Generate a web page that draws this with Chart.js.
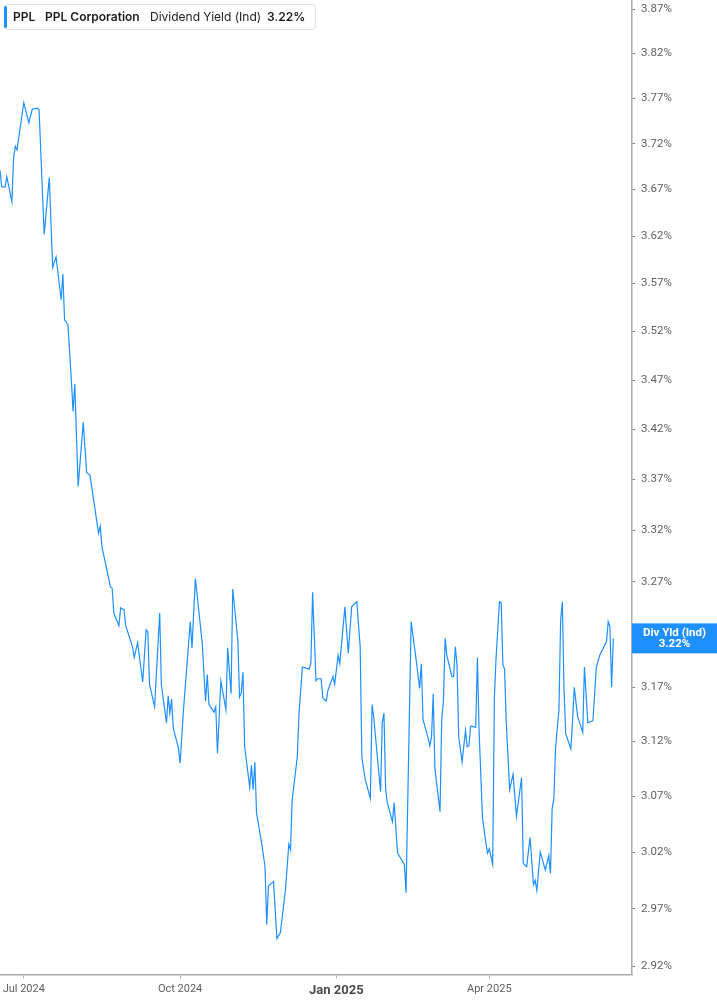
<!DOCTYPE html>
<html>
<head>
<meta charset="utf-8">
<script src="https://cdn.jsdelivr.net/npm/chart.js@4.4.1/dist/chart.umd.min.js"></script>
<style>
html,body{margin:0;padding:0;background:#fff;}
#wrap{position:relative;width:717px;height:1005px;overflow:hidden;}
#chart{position:absolute;left:0;top:0;}
#legend{position:absolute;left:4px;top:4px;width:312px;height:26px;box-sizing:border-box;border:1px solid #e4e4e4;border-radius:3px;background:#fff;font-family:Inter,"Noto Sans",sans-serif;font-size:12px;color:#1b1b1b;}
#legend .bar{position:absolute;left:-1px;top:1px;width:3px;height:22px;border-radius:2px;background:#1e8fff;}
#legend span{position:absolute;top:5px;line-height:14px;white-space:nowrap;}
#legend .b{font-weight:600;}
</style>
</head>
<body>
<div id="wrap">
  <canvas id="chart" width="717" height="1005"></canvas>
  <div id="legend">
    <div class="bar"></div>
    <span class="b" id="lgTicker" style="left:8px"></span>
    <span class="b" id="lgName" style="left:40px"></span>
    <span id="lgMetric" style="left:145px"></span>
    <span class="b" id="lgValue" style="left:262px"></span>
  </div>
</div>
<script>
const ticker = 'PPL';
const companyName = 'PPL Corporation';
const metricName = 'Dividend Yield (Ind)';
const seriesLabel = 'Div Yld (Ind)';

const dates = [
'2024-06-17','2024-06-18','2024-06-20','2024-06-21','2024-06-24','2024-06-25','2024-06-26','2024-06-27',
'2024-07-01','2024-07-04','2024-07-06','2024-07-09','2024-07-10','2024-07-13','2024-07-16','2024-07-18',
'2024-07-20','2024-07-23','2024-07-24','2024-07-25','2024-07-27','2024-07-28','2024-07-29','2024-07-30',
'2024-07-31','2024-08-02','2024-08-05','2024-08-07','2024-08-09','2024-08-14','2024-08-15','2024-08-16',
'2024-08-21','2024-08-22','2024-08-23','2024-08-26','2024-08-27','2024-08-29','2024-08-30','2024-09-03',
'2024-09-04','2024-09-06','2024-09-09','2024-09-11','2024-09-12','2024-09-13','2024-09-16','2024-09-19',
'2024-09-20','2024-09-23','2024-09-24','2024-09-25','2024-09-26','2024-09-27','2024-09-30','2024-10-01',
'2024-10-03','2024-10-07','2024-10-08','2024-10-10','2024-10-14','2024-10-16','2024-10-17','2024-10-18',
'2024-10-21','2024-10-22','2024-10-23','2024-10-25','2024-10-28','2024-10-29','2024-10-31','2024-11-01',
'2024-11-04','2024-11-05','2024-11-06','2024-11-07','2024-11-08','2024-11-11','2024-11-12','2024-11-13',
'2024-11-14','2024-11-15','2024-11-18','2024-11-20','2024-11-21','2024-11-22','2024-11-25','2024-11-27',
'2024-11-29','2024-12-02','2024-12-04','2024-12-05','2024-12-06','2024-12-09','2024-12-10','2024-12-12',
'2024-12-14','2024-12-16','2024-12-17','2024-12-18','2024-12-20','2024-12-21','2024-12-23','2024-12-24',
'2024-12-26','2024-12-27','2024-12-30','2024-12-31','2025-01-02','2025-01-03','2025-01-06','2025-01-08',
'2025-01-10','2025-01-13','2025-01-15','2025-01-16','2025-01-18','2025-01-21','2025-01-22','2025-01-23',
'2025-01-27','2025-01-28','2025-01-29','2025-01-30','2025-01-31','2025-02-03','2025-02-04','2025-02-06',
'2025-02-10','2025-02-11','2025-02-14','2025-02-17','2025-02-19','2025-02-20','2025-02-21','2025-02-24',
'2025-02-25','2025-02-26','2025-02-27','2025-02-28','2025-03-03','2025-03-04','2025-03-05','2025-03-06',
'2025-03-07','2025-03-10','2025-03-11','2025-03-12','2025-03-13','2025-03-14','2025-03-16','2025-03-18',
'2025-03-19','2025-03-20','2025-03-21','2025-03-24','2025-03-25','2025-03-26','2025-03-28','2025-03-30',
'2025-03-31','2025-04-01','2025-04-03','2025-04-04','2025-04-05','2025-04-07','2025-04-08','2025-04-09',
'2025-04-10','2025-04-11','2025-04-13','2025-04-15','2025-04-17','2025-04-20','2025-04-21','2025-04-23',
'2025-04-25','2025-04-27','2025-04-28','2025-04-29','2025-05-01','2025-05-04','2025-05-06','2025-05-07',
'2025-05-08','2025-05-09','2025-05-10','2025-05-12','2025-05-13','2025-05-14','2025-05-15','2025-05-16',
'2025-05-19','2025-05-20','2025-05-21','2025-05-23','2025-05-26','2025-05-27','2025-05-29','2025-06-01',
'2025-06-03','2025-06-05','2025-06-09','2025-06-10','2025-06-11','2025-06-12','2025-06-13'
];

const yieldPct = [
3.691,3.673,3.673,3.684,3.657,3.705,3.717,3.713,
3.765,3.743,3.758,3.759,3.757,3.622,3.683,3.587,
3.598,3.553,3.580,3.532,3.527,3.498,3.470,3.438,
3.466,3.363,3.427,3.377,3.374,3.317,3.324,3.304,
3.265,3.264,3.240,3.228,3.245,3.243,3.228,3.208,
3.198,3.212,3.175,3.224,3.222,3.173,3.152,3.240,
3.172,3.137,3.162,3.146,3.159,3.132,3.114,3.100,
3.149,3.232,3.207,3.273,3.212,3.157,3.182,3.154,
3.147,3.152,3.109,3.176,3.149,3.207,3.164,3.263,
3.214,3.161,3.165,3.184,3.115,3.078,3.098,3.076,
3.101,3.055,3.028,3.007,2.956,2.990,2.994,2.944,
2.949,2.986,3.027,3.022,3.067,3.106,3.146,3.189,
3.188,3.187,3.193,3.260,3.176,3.178,3.178,3.160,
3.157,3.167,3.180,3.173,3.200,3.192,3.246,3.202,
3.246,3.251,3.208,3.105,3.085,3.068,3.154,3.142,
3.074,3.137,3.146,3.076,3.064,3.047,3.064,3.019,
3.009,2.984,3.232,3.195,3.169,3.192,3.140,3.123,
3.116,3.124,3.164,3.095,3.056,3.140,3.157,3.216,
3.200,3.180,3.180,3.208,3.191,3.124,3.101,3.130,
3.115,3.116,3.134,3.133,3.198,3.129,3.051,3.028,
3.019,3.023,3.009,3.161,3.198,3.251,3.250,3.191,
3.187,3.137,3.076,3.090,3.052,3.087,3.010,3.007,
3.033,2.991,2.995,2.986,3.020,3.004,3.017,3.001,
3.059,3.068,3.114,3.149,3.233,3.251,3.167,3.127,
3.113,3.138,3.170,3.143,3.128,3.189,3.137,3.139,
3.189,3.200,3.213,3.232,3.227,3.170,3.216
];

const yTickValues = [2.92,2.97,3.02,3.07,3.12,3.17,3.22,3.27,3.32,3.37,3.42,3.47,3.52,3.57,3.62,3.67,3.72,3.77,3.82,3.87];
const xTickDates = ['2024-07-01','2024-10-01','2025-01-01','2025-04-01'];
const xTickLabels = ['Jul 2024','Oct 2024','Jan 2025','Apr 2025'];
const xRange = ['2024-06-17','2025-06-24'];
const yRange = [2.9131, 3.8806];

const LINE_COLOR = '#1e8fff';
const AXIS_COLOR = '#a9a9a9';
const LABEL_COLOR = '#5f5f5f';

function dayNum(s){
  const p = s.split('-').map(Number);
  return Date.UTC(p[0], p[1]-1, p[2]) / 86400000;
}

const lastVal = yieldPct[yieldPct.length-1];
document.getElementById('lgTicker').textContent = ticker;
document.getElementById('lgName').textContent = companyName;
document.getElementById('lgMetric').textContent = metricName;
document.getElementById('lgValue').textContent = lastVal.toFixed(2) + '%';

const points = dates.map((d,i)=>({x: dayNum(d), y: yieldPct[i]}));

const tagPlugin = {
  id: 'lastTag',
  afterDraw(chart){
    const ctx = chart.ctx;
    const ys = chart.scales.y;
    const area = chart.chartArea;
    const cy = ys.getPixelForValue(lastVal);
    const left = area.right;
    const w = chart.width - left;
    ctx.save();
    ctx.fillStyle = LINE_COLOR;
    ctx.fillRect(left, cy - 15, w, 30);
    ctx.fillStyle = '#ffffff';
    ctx.font = 'bold 11.5px Roboto, "Noto Sans", sans-serif';
    ctx.textAlign = 'center';
    ctx.textBaseline = 'middle';
    ctx.fillText(seriesLabel, left + w/2, cy - 5.5);
    ctx.fillText(lastVal.toFixed(2) + '%', left + w/2, cy + 6);
    ctx.restore();
  }
};

new Chart(document.getElementById('chart'), {
  type: 'line',
  data: {
    datasets: [{
      label: seriesLabel,
      data: points,
      borderColor: LINE_COLOR,
      borderWidth: 1.2,
      pointRadius: 0,
      tension: 0,
      fill: false
    }]
  },
  options: {
    responsive: false,
    animation: false,
    layout: { padding: 0 },
    plugins: { legend: { display: false }, tooltip: { enabled: false } },
    scales: {
      x: {
        type: 'linear',
        bounds: 'data',
        min: dayNum(xRange[0]),
        max: dayNum(xRange[1]),
        afterBuildTicks: s => { s.ticks = xTickDates.map(d => ({ value: dayNum(d) })); },
        afterFit: s => { s.height = 30.5; s.paddingLeft = 0; s.paddingRight = 0; },
        ticks: {
          autoSkip: false,
          maxRotation: 0,
          padding: 4,
          color: ctx => ctx.index === 2 ? '#4a4a4a' : LABEL_COLOR,
          font: ctx => ctx.index === 2
            ? { family: 'Roboto, "Noto Sans", sans-serif', size: 13, weight: 'bold' }
            : { family: 'Roboto, "Noto Sans", sans-serif', size: 11 },
          callback: (v, i) => xTickLabels[i]
        },
        grid: { drawOnChartArea: false, drawTicks: true, tickLength: 4, color: AXIS_COLOR },
        border: { color: AXIS_COLOR, width: 1.5 }
      },
      y: {
        type: 'logarithmic',
        position: 'right',
        bounds: 'data',
        min: yRange[0],
        max: yRange[1],
        afterBuildTicks: s => { s.ticks = yTickValues.map(v => ({ value: v })); },
        afterFit: s => { s.width = 85; s.paddingTop = 0; s.paddingBottom = 0; },
        ticks: {
          autoSkip: false,
          padding: 6,
          color: LABEL_COLOR,
          font: { family: 'Roboto, "Noto Sans", sans-serif', size: 11.5 },
          callback: v => Number(v).toFixed(2) + '%'
        },
        grid: { drawOnChartArea: false, drawTicks: true, tickLength: 3, color: '#777' },
        border: { color: AXIS_COLOR, width: 1.5 }
      }
    }
  },
  plugins: [tagPlugin]
});
</script>
</body>
</html>
